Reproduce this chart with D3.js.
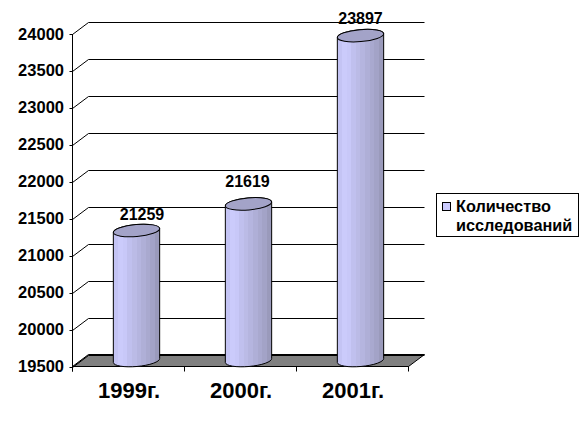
<!DOCTYPE html>
<html><head><meta charset="utf-8">
<script src="https://cdnjs.cloudflare.com/ajax/libs/d3/7.8.5/d3.min.js"></script>
<style>html,body{margin:0;padding:0;background:#fff}svg{display:block}text{font-family:"Liberation Sans",Arial,sans-serif;font-weight:bold;fill:#000}</style>
</head><body><svg id="c" width="587" height="431"></svg>
<script>
const categories = ["1999г.", "2000г.", "2001г."];
const values = [21259, 21619, 23897];
const yTicks = [19500,20000,20500,21000,21500,22000,22500,23000,23500,24000];
const legendLines = ["Количество", "исследований"];
const bandColors = ["#c4c4f4","#cbcbfb","#c8c8f8","#c0c0ee","#bbbbe6","#b5b5df","#afafd7","#a9a9cf","#a3a3c7","#9a9abb"];
const labelDx = [5.5,-1,0];
const labelDy = [11,17,12];

const svg = d3.select("#c");
const plotLeft = 72.5, plotRight = 408.5, plotTop = 34, plotBottom = 366.5, dx = 16, dy = -12;
const y = d3.scaleLinear().domain([19500,24000]).range([plotBottom, plotTop]);
const x = d3.scaleBand().domain(categories).range([plotLeft, plotRight]);
const barW = 46.5, ry = 6, tilt = -5;

// stepped cylinder gradient
const defs = svg.append("defs");
const grad = defs.append("linearGradient").attr("id","cyl");
bandColors.forEach((c,i)=>{
  grad.append("stop").attr("offset",i/bandColors.length).attr("stop-color",c);
  grad.append("stop").attr("offset",(i+1)/bandColors.length).attr("stop-color",c);
});

// floor
svg.append("path")
  .attr("d",`M${plotLeft},${plotBottom}L${plotLeft+dx},${plotBottom+dy}H${plotRight+dx}L${plotRight},${plotBottom}Z`)
  .attr("fill","#808080").attr("stroke","#000").attr("stroke-width",1);

// gridlines with depth segments
const grid = svg.append("g").attr("fill","none").attr("stroke","#000").attr("stroke-width",1);
yTicks.forEach(t=>{
  const py = Math.round(y(t))+0.5;
  grid.append("path").attr("d",`M${plotLeft-3},${py}H${plotLeft}L${plotLeft+dx},${py+dy}H${plotRight+dx}`);
});

// axes
svg.append("line").attr("x1",plotLeft).attr("x2",plotLeft).attr("y1",y(24000)).attr("y2",plotBottom+5).attr("stroke","#000");
svg.append("line").attr("x1",plotLeft).attr("x2",plotRight).attr("y1",plotBottom).attr("y2",plotBottom).attr("stroke","#000");
[plotLeft].concat(categories.map(c=>x(c)+x.bandwidth())).forEach(px=>{
  svg.append("line").attr("x1",px).attr("x2",px).attr("y1",plotBottom).attr("y2",plotBottom+5).attr("stroke","#000");
});

// y labels
svg.append("g").selectAll("text").data(yTicks).join("text")
  .attr("x",64).attr("y",d=>y(d)+5.5).attr("text-anchor","end").attr("font-size",16.5).text(d=>d);

// x labels
svg.append("g").selectAll("text").data(categories).join("text")
  .attr("x",d=>x(d)+x.bandwidth()/2+0.5).attr("y",398).attr("text-anchor","middle").attr("font-size",22).text(d=>d);

// cylinders
const gBars = svg.append("g");
const rad = tilt*Math.PI/180;
categories.forEach((c,i)=>{
  const cx = x(c)+x.bandwidth()/2+8, topY = y(values[i])-6, baseY = plotBottom-6;
  const rx = barW/2, s = Math.sin(rad)*rx, h = Math.cos(rad)*rx;
  const L = cx-h, R = cx+h;
  gBars.append("path")
    .attr("d",`M${L},${topY-s}L${L},${baseY-s}A${rx},${ry} ${tilt} 0 0 ${R},${baseY+s}L${R},${topY+s}A${rx},${ry} ${tilt} 0 0 ${L},${topY-s}Z`)
    .attr("fill","url(#cyl)").attr("stroke","#000");
  gBars.append("ellipse").attr("cx",cx).attr("cy",topY).attr("rx",rx).attr("ry",ry)
    .attr("transform",`rotate(${tilt} ${cx} ${topY})`)
    .attr("fill","#a3a3c8").attr("stroke","#000");
  svg.append("text").attr("x",cx+labelDx[i]).attr("y",topY-labelDy[i])
    .attr("text-anchor","middle").attr("font-size",16).text(values[i]);
});

// legend
svg.append("rect").attr("x",436.5).attr("y",193.5).attr("width",142).attr("height",43).attr("fill","#fff").attr("stroke","#000");
svg.append("rect").attr("x",442.5).attr("y",202.5).attr("width",8).attr("height",8).attr("fill","#ccccff").attr("stroke","#000");
legendLines.forEach((l,i)=>{
  svg.append("text").attr("x",456).attr("y",212+i*19).attr("font-size",16.3).text(l);
});
</script></body></html>
